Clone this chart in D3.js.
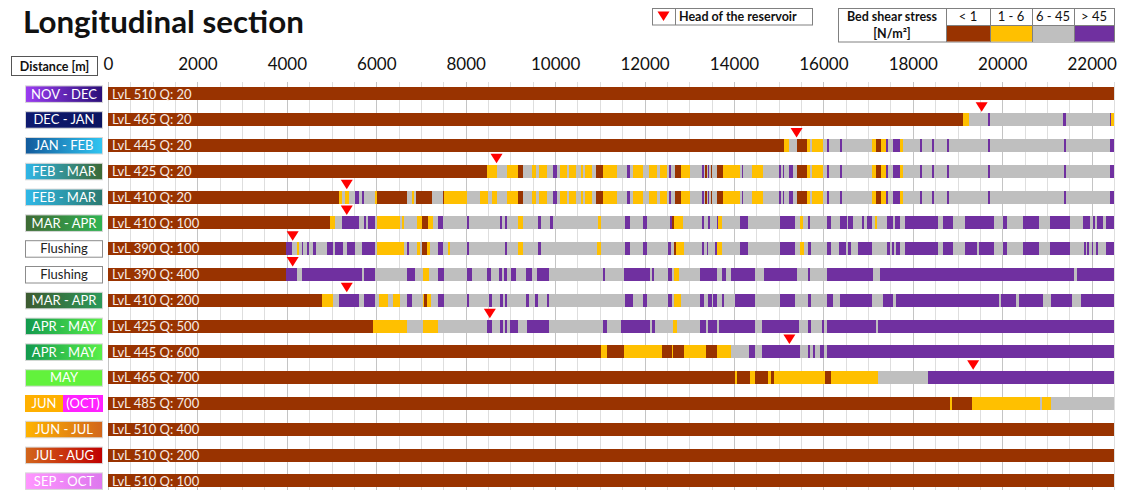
<!DOCTYPE html>
<html>
<head>
<meta charset="utf-8">
<script src="https://cdn.jsdelivr.net/npm/d3@7"></script>
<style>
  html, body { margin: 0; padding: 0; background: #fff; overflow: hidden; }
  svg { display: block; }
  text { font-family: Lato, "Open Sans", "DejaVu Sans", sans-serif; }
</style>
</head>
<body>
<svg id="chart" width="1124" height="490"></svg>
<script>
// ---- Data -----------------------------------------------------------------
const periods = [
  "NOV - DEC", "DEC - JAN", "JAN - FEB", "FEB - MAR", "FEB - MAR", "MAR - APR",
  "Flushing", "Flushing", "MAR - APR", "APR - MAY", "APR - MAY", "MAY",
  "JUN (OCT)", "JUN - JUL", "JUL - AUG", "SEP - OCT"
];
const levels     = [510, 465, 445, 425, 410, 410, 390, 390, 410, 425, 445, 465, 485, 510, 510, 510];
const discharges = [20, 20, 20, 20, 20, 100, 100, 400, 200, 500, 600, 700, 700, 400, 200, 100];

// head of the reservoir per run [m], null where none is marked
const headOfReservoir = [null, 19540, 15400, 8690, 5340, 5340, 4130, 4130, 5340, 8540, 15240, 19350, null, null, null, null];

const stressClasses = ["< 1", "1 - 6", "6 - 45", "> 45"];
const distanceTicks = [0, 2000, 4000, 6000, 8000, 10000, 12000, 14000, 16000, 18000, 20000, 22000];
const sectionLength = 22500;

// Bed shear stress along the section: [end of stretch in m, stress class index]
// (0: < 1, 1: 1 - 6, 2: 6 - 45, 3: > 45); each stretch starts where the previous ends.
const lowerReachWinter = [
  [17090,2],[17180,1],[17290,0],[17400,1],[17450,3],[17560,2],[17710,3],[17780,1],[18160,2],
  [18210,3],[18430,2],[18470,3],[18770,2],[18810,3],[19680,2],[19730,3],[21380,2],[21430,3],
  [22410,2],[22500,3]
];
const middleReachFebMar = [
  [8930,2],[9180,1],[9290,0],[9480,2],[9570,1],[9650,2],[9810,1],[9960,2],[10040,3],[10110,2],
  [10260,1],[10300,2],[10470,1],[10570,2],[10620,1],[10670,2],[10820,1],[10910,2],[11080,0],
  [11380,1],[11600,2],[11680,3],[11740,2],[11970,1],[12110,2],[12270,1],[12350,2],[12500,1],
  [12550,2],[12590,3],[12680,2],[12810,0],[13020,1],[13280,2],[13320,3],[13350,2],[13390,0],
  [13430,2],[13450,3],[13480,2],[13520,0],[13630,2],[13760,0],[14140,1],[14170,2],[14210,3],
  [14400,2],[14660,1],[15010,2],[15050,3],[15090,2],[15120,3],[15220,2],[15310,3],[15420,2],
  [15630,0],[15700,1],[15750,2],[16000,1],[16070,2],[16120,3],[16370,2],[16420,3]
];

const stressNovDec = [[22500,0]];
const stressDecJan = [[19120,0],[19260,1],[19680,2],[19730,3],[21360,2],[21430,3],[22410,2],[22440,3],[22500,1]];
const stressJanFeb = [
  [15120,0],[15230,1],[15410,2],[15630,0],[15700,1],[15750,2],[15990,1],[16080,2],[16130,3],
  [16370,2],[16420,3], ...lowerReachWinter
];
const stressFebMar425 = [[8470,0],[8710,1], ...middleReachFebMar, ...lowerReachWinter];
const stressFebMar410 = [
  [5170,0],[5230,1],[5300,2],[5400,1],[5520,2],[5620,3],[5670,2],[5730,3],[5970,2],[6020,1],
  [6680,0],[6810,2],[6840,1],[6890,2],[7240,0],[7490,2],[7520,0],[8020,1],[8320,2],[8510,1],
  [8580,2],[8710,1], ...middleReachFebMar, ...lowerReachWinter
];
const stressMarApr100 = [
  [4970,0],[5080,1],[5230,2],[5620,3],[5730,2],[5770,3],[5820,2],[5970,3],[6010,2],[6530,1],
  [6570,2],[6620,1],[6900,2],[7020,1],[7160,0],[7260,1],[7370,2],[7490,3],[8020,2],[8080,3],
  [8770,2],[8810,3],[8880,2],[8930,3],[9180,2],[9290,1],[9620,2],[9680,3],[9890,2],[9950,3],
  [10970,2],[11030,1],[11560,2],[11680,3],[11970,2],[12060,3],[12570,2],[12610,3],[12660,0],
  [12870,1],[13280,2],[13320,3],[13430,2],[13460,3],[13610,2],[13640,3],[13730,1],[14140,2],
  [14320,3],[15030,2],[15370,3],[15480,2],[15550,1],[15660,2],[15700,3],[16070,2],[16160,3],
  [16370,2],[16520,3],[16560,2],[16670,3],[16860,2],[16910,3],[16970,2],[17080,3],[17150,2],
  [17210,1],[17420,2],[17560,3],[17600,2],[17710,3],[17830,2],[18570,3],[18680,2],[18910,3],
  [19170,2],[19820,3],[20020,2],[20110,3],[20470,2],[20820,3],[21070,2],[21520,3],[21810,2],
  [21960,3],[22020,2],[22080,3],[22110,2],[22260,3],[22310,2],[22500,3]
];
const stressFlushing100 = [
  [3980,0],[4120,3],[4220,2],[4280,1],[4330,2],[4370,3],[4460,2],[4500,3],[4590,2],[4650,3],
  [4890,2],[5030,3],[5080,2],[5260,3],[5340,2],[5520,3],[5670,2],[5970,3],[6010,2],[6620,1],
  [6680,2],[6740,3],[6920,2],[6980,1],[7020,2],[7130,0],[7200,1],[7370,2],[7490,3],[7610,2],
  [7650,1],[8020,2],[8080,3],[8880,2],[8930,3],[9180,2],[9280,1],[9620,2],[9680,3],[10930,2],
  [11020,1],[11560,2],[11680,3],[11970,2],[12060,3],[12530,2],[12590,3],[12660,2],[12700,0],
  [12880,1],[13280,2],[13320,3],[13390,2],[13430,3],[13580,2],[13610,3],[13730,1],[14140,2],
  [14320,3],[15030,2],[15370,3],[15480,2],[15570,1],[15660,2],[15720,3],[16070,2],[16160,3],
  [16360,2],[16510,3],[16560,2],[16610,3],[16780,2],[17080,3],[17420,2],[17480,3],[17530,2],
  [17580,3],[17620,2],[17710,3],[17830,2],[18570,3],[18680,2],[18910,3],[19170,2],[19430,3],
  [19480,2],[19820,3],[20020,2],[20110,3],[20470,2],[20820,3],[21070,2],[21520,3],[21830,2],
  [21870,3],[21900,2],[21950,3],[22000,2],[22040,3],[22100,2],[22150,3],[22310,2],[22500,3]
];
const stressFlushing400 = [
  [3980,0],[4220,3],[4330,2],[5670,3],[5730,2],[5970,3],[6680,2],[6870,3],[7040,2],[7190,1],
  [7370,2],[7520,3],[8020,2],[8130,3],[8470,2],[8560,3],[8750,2],[8810,3],[8860,2],[8920,3],
  [9010,2],[9130,3],[9360,2],[9480,3],[9590,2],[9870,3],[11060,2],[11120,3],[11530,2],[12120,3],
  [12170,2],[12220,3],[12530,2],[12610,3],[12670,2],[12770,1],[13230,2],[13630,3],[13730,2],
  [13820,3],[13930,2],[14470,3],[14670,2],[15420,3],[15660,2],[15700,3],[16070,2],[17120,3],
  [17270,2],[21610,3],[21670,2],[22500,3]
];
const stressMarApr200 = [
  [4780,0],[5030,1],[5170,2],[5620,3],[5730,2],[5970,3],[6070,2],[6270,1],[6380,2],[6520,1],
  [6680,2],[6810,3],[7040,2],[7070,1],[7130,0],[7220,1],[7370,2],[7520,3],[8020,2],[8080,3],
  [8530,2],[8580,3],[8770,2],[8830,3],[8880,2],[8930,3],[9360,2],[9420,3],[9550,2],[9610,3],
  [9810,2],[9870,3],[11560,2],[11740,3],[11970,2],[12060,3],[12530,2],[12610,3],[12660,2],
  [12810,1],[13230,2],[13320,3],[13430,2],[13500,3],[13540,2],[13610,3],[13730,2],[13780,3],
  [14020,2],[14470,3],[15030,2],[15370,3],[15660,2],[15720,3],[16070,2],[16210,3],[16370,2],
  [17080,3],[17330,2],[17560,3],[17620,2],[19920,3],[19980,2],[20310,3],[20380,2],[20920,3],
  [21080,2],[21570,3],[21760,2],[22500,3]
];
const stressAprMay500 = [
  [5930,0],[6680,1],[7040,2],[7370,1],[8470,2],[8580,3],[8770,2],[8830,3],[8880,2],[8930,3],
  [8980,2],[9180,3],[9380,2],[9870,3],[11080,2],[11170,3],[11470,2],[12120,3],[12170,2],[12230,3],
  [12640,2],[12730,1],[13230,2],[13380,3],[13430,2],[13630,3],[13670,2],[14470,3],[14620,2],
  [15460,3],[15660,2],[15720,3],[15960,2],[16010,3],[16070,2],[17180,3],[17230,2],[22500,3]
];
const stressAprMay600 = [
  [11020,0],[11170,1],[11530,0],[12380,1],[12610,0],[12640,1],[12880,0],[13380,1],[13630,0],
  [13930,1],[14340,2],[14470,3],[14620,2],[15480,3],[15660,2],[15700,3],[15760,2],[15810,3],
  [15920,2],[16010,3],[16070,2],[22500,3]
];
const stressMay = [
  [14020,0],[14060,1],[14370,0],[14460,1],[14770,0],[14830,1],[14900,0],[16040,1],[16160,0],
  [17230,1],[18330,2],[22500,3]
];
const stressJun = [[18830,0],[18870,1],[19320,0],[20850,1],[20880,2],[21080,1],[22500,2]];
const stressJunJul = [[22500,0]];
const stressJulAug = [[22500,0]];
const stressSepOct = [[22500,0]];

const stressProfiles = [
  stressNovDec, stressDecJan, stressJanFeb, stressFebMar425, stressFebMar410, stressMarApr100,
  stressFlushing100, stressFlushing400, stressMarApr200, stressAprMay500, stressAprMay600,
  stressMay, stressJun, stressJunJul, stressJulAug, stressSepOct
];

// ---- Styling -----------------------------------------------------------------
const classColors = ["#993300", "#ffc000", "#bfbfbf", "#7030a0"];
const periodFills = [
  ["#9b3cf2", "#2a0f78"], ["#0e1a70", "#0b1460"], ["#125a9c", "#30c6f2"], ["#2fb6e8", "#3b6934"],
  ["#2fb8e8", "#2b7a70"], ["#3e6a34", "#2fb452"], ["#ffffff", "#ffffff"], ["#ffffff", "#ffffff"],
  ["#3d5a30", "#2c9a5a"], ["#12994e", "#58f048"], ["#12994e", "#58f048"], ["#62f23c", "#62f23c"],
  ["#ffb000", "#ffb000"], ["#ffb400", "#d2661c"], ["#d2661c", "#c00000"], ["#ff96ff", "#dd77ee"]
];

// ---- Chart -------------------------------------------------------------------
const svg = d3.select("#chart");
const x = d3.scaleLinear().domain([0, sectionLength]).range([108, 1114]);
const rowStep = 25.8;
const y = d3.scaleBand().domain(d3.range(periods.length))
  .range([81, 81 + rowStep * periods.length]).paddingInner(0.5).paddingOuter(0.25);
const bw = y.bandwidth();

const defs = svg.append("defs");
periodFills.forEach((c, i) => {
  const g = defs.append("linearGradient").attr("id", "pf" + i)
    .attr("x1", "0%").attr("x2", "100%").attr("y1", "0%").attr("y2", "0%");
  g.append("stop").attr("offset", "0%").attr("stop-color", c[0]);
  g.append("stop").attr("offset", "100%").attr("stop-color", c[1]);
});

// vertical grid every 500 m, stronger every 2000 m
const grid = svg.append("g");
grid.selectAll("line").data(d3.range(0, sectionLength + 1, 500)).join("line")
  .attr("x1", d => Math.round(x(d)) + 0.5).attr("x2", d => Math.round(x(d)) + 0.5)
  .attr("y1", 82).attr("y2", 490)
  .attr("stroke", d => d % 2000 === 0 ? "#c4c4c4" : "#dedede")
  .attr("stroke-width", 1);

// distance axis on top
const axis = svg.append("g").attr("transform", "translate(0,72)")
  .call(d3.axisTop(x).tickValues(distanceTicks).tickSize(0).tickPadding(2).tickFormat(d3.format("d")));
axis.select(".domain").remove();
axis.selectAll("text").attr("font-family", "Lato, 'Open Sans', sans-serif")
  .attr("font-size", 17).attr("fill", "#111");

// stress bars
const rows = svg.append("g");
stressProfiles.forEach((profile, i) => {
  let start = 0;
  const segs = profile.map(([end, cls]) => { const s = { start, end, cls }; start = end; return s; });
  rows.append("g").selectAll("rect").data(segs).join("rect")
    .attr("x", d => x(d.start)).attr("width", d => x(d.end) - x(d.start))
    .attr("y", y(i)).attr("height", bw)
    .attr("fill", d => classColors[d.cls])
    .attr("shape-rendering", "crispEdges");
  rows.append("text")
    .attr("x", x(0) + 4).attr("y", y(i) + bw / 2 + 4.6)
    .attr("font-size", 13).attr("fill", "#f7ece6")
    .text(`LvL ${levels[i]} Q: ${discharges[i]}`);
});

// head of the reservoir markers
svg.append("g").selectAll("path")
  .data(headOfReservoir.map((d, i) => ({ d, i })).filter(o => o.d !== null))
  .join("path")
  .attr("d", o => {
    const cx = x(o.d), top = y(o.i);
    return `M${cx - 6},${top - 11}L${cx + 6},${top - 11}L${cx},${top - 1.5}Z`;
  })
  .attr("fill", "#ff0000");

// period labels on the left
const lab = svg.append("g");
periods.forEach((p, i) => {
  const cy = y(i) + bw / 2;
  const flushing = p === "Flushing";
  if (p === "JUN (OCT)") {
    lab.append("rect").attr("x", 25).attr("y", cy - 8.5).attr("width", 38).attr("height", 17).attr("fill", "#ffb000");
    lab.append("rect").attr("x", 63).attr("y", cy - 8.5).attr("width", 40).attr("height", 17).attr("fill", "#ff22ff");
    lab.append("text").attr("x", 44).attr("y", cy + 4.6).attr("text-anchor", "middle")
      .attr("font-size", 13).attr("fill", "#fff").text("JUN");
    lab.append("text").attr("x", 83).attr("y", cy + 4.6).attr("text-anchor", "middle")
      .attr("font-size", 13).attr("fill", "#fff").text("(OCT)");
    return;
  }
  lab.append("rect").attr("x", 25.5).attr("y", cy - 8).attr("width", 77).attr("height", 16.5)
    .attr("fill", `url(#pf${i})`)
    .attr("stroke", flushing ? "#8c8c8c" : "#d8d8d8").attr("stroke-width", 1);
  lab.append("text").attr("x", 64).attr("y", cy + 4.6).attr("text-anchor", "middle")
    .attr("font-size", 13).attr("fill", flushing ? "#222" : "#fff").text(p);
});

// title
const title = svg.append("text").attr("x", 23).attr("y", 33)
  .attr("font-size", 27).attr("font-weight", 700).attr("fill", "#111")
  .text("Longitudinal section");
const tw = title.node().getComputedTextLength();
if (tw > 0) title.attr("font-size", 27 * 281 / tw);

// "Distance [m]" box
svg.append("rect").attr("x", 11.5).attr("y", 56.5).attr("width", 86).attr("height", 19)
  .attr("fill", "#fff").attr("stroke", "#555");
svg.append("text").attr("x", 54.5).attr("y", 70.5).attr("text-anchor", "middle")
  .attr("font-size", 12.5).attr("font-weight", 700).attr("fill", "#111").text("Distance [m]");

// legend: head of the reservoir
const lg1 = svg.append("g");
lg1.append("rect").attr("x", 652.5).attr("y", 8.5).attr("width", 160).attr("height", 16.5)
  .attr("fill", "#fff").attr("stroke", "#808080");
lg1.append("line").attr("x1", 675.5).attr("x2", 675.5).attr("y1", 8.5).attr("y2", 25)
  .attr("stroke", "#808080");
lg1.append("path").attr("d", "M657.5,11.5L669.5,11.5L663.5,21Z").attr("fill", "#ff0000");
lg1.append("text").attr("x", 679).attr("y", 21).attr("font-size", 12.5).attr("font-weight", 700)
  .attr("fill", "#111").text("Head of the reservoir");

// legend: bed shear stress classes
const lg2 = svg.append("g");
const colEdges = [946, 990, 1032, 1074, 1114];
lg2.append("rect").attr("x", 838.5).attr("y", 8.5).attr("width", 276).attr("height", 33.5)
  .attr("fill", "#fff").attr("stroke", "#808080");
stressClasses.forEach((c, k) => {
  const x0 = colEdges[k], x1 = colEdges[k + 1];
  lg2.append("rect").attr("x", x0 + 1).attr("y", 26).attr("width", x1 - x0 - 1).attr("height", 15.5)
    .attr("fill", classColors[k]);
  lg2.append("text").attr("x", (x0 + x1) / 2).attr("y", 21).attr("text-anchor", "middle")
    .attr("font-size", 13).attr("fill", "#111").text(c);
});
colEdges.slice(0, 4).forEach(e => lg2.append("line").attr("x1", e + 0.5).attr("x2", e + 0.5)
  .attr("y1", 8.5).attr("y2", 42).attr("stroke", "#808080"));
lg2.append("line").attr("x1", 946.5).attr("x2", 1114.5).attr("y1", 25.5).attr("y2", 25.5).attr("stroke", "#808080");
lg2.append("text").attr("x", 892).attr("y", 21).attr("text-anchor", "middle")
  .attr("font-size", 12.5).attr("font-weight", 700).attr("fill", "#111").text("Bed shear stress");
lg2.append("text").attr("x", 892).attr("y", 38).attr("text-anchor", "middle")
  .attr("font-size", 12.5).attr("font-weight", 700).attr("fill", "#111").text("[N/m²]");
</script>
</body>
</html>
